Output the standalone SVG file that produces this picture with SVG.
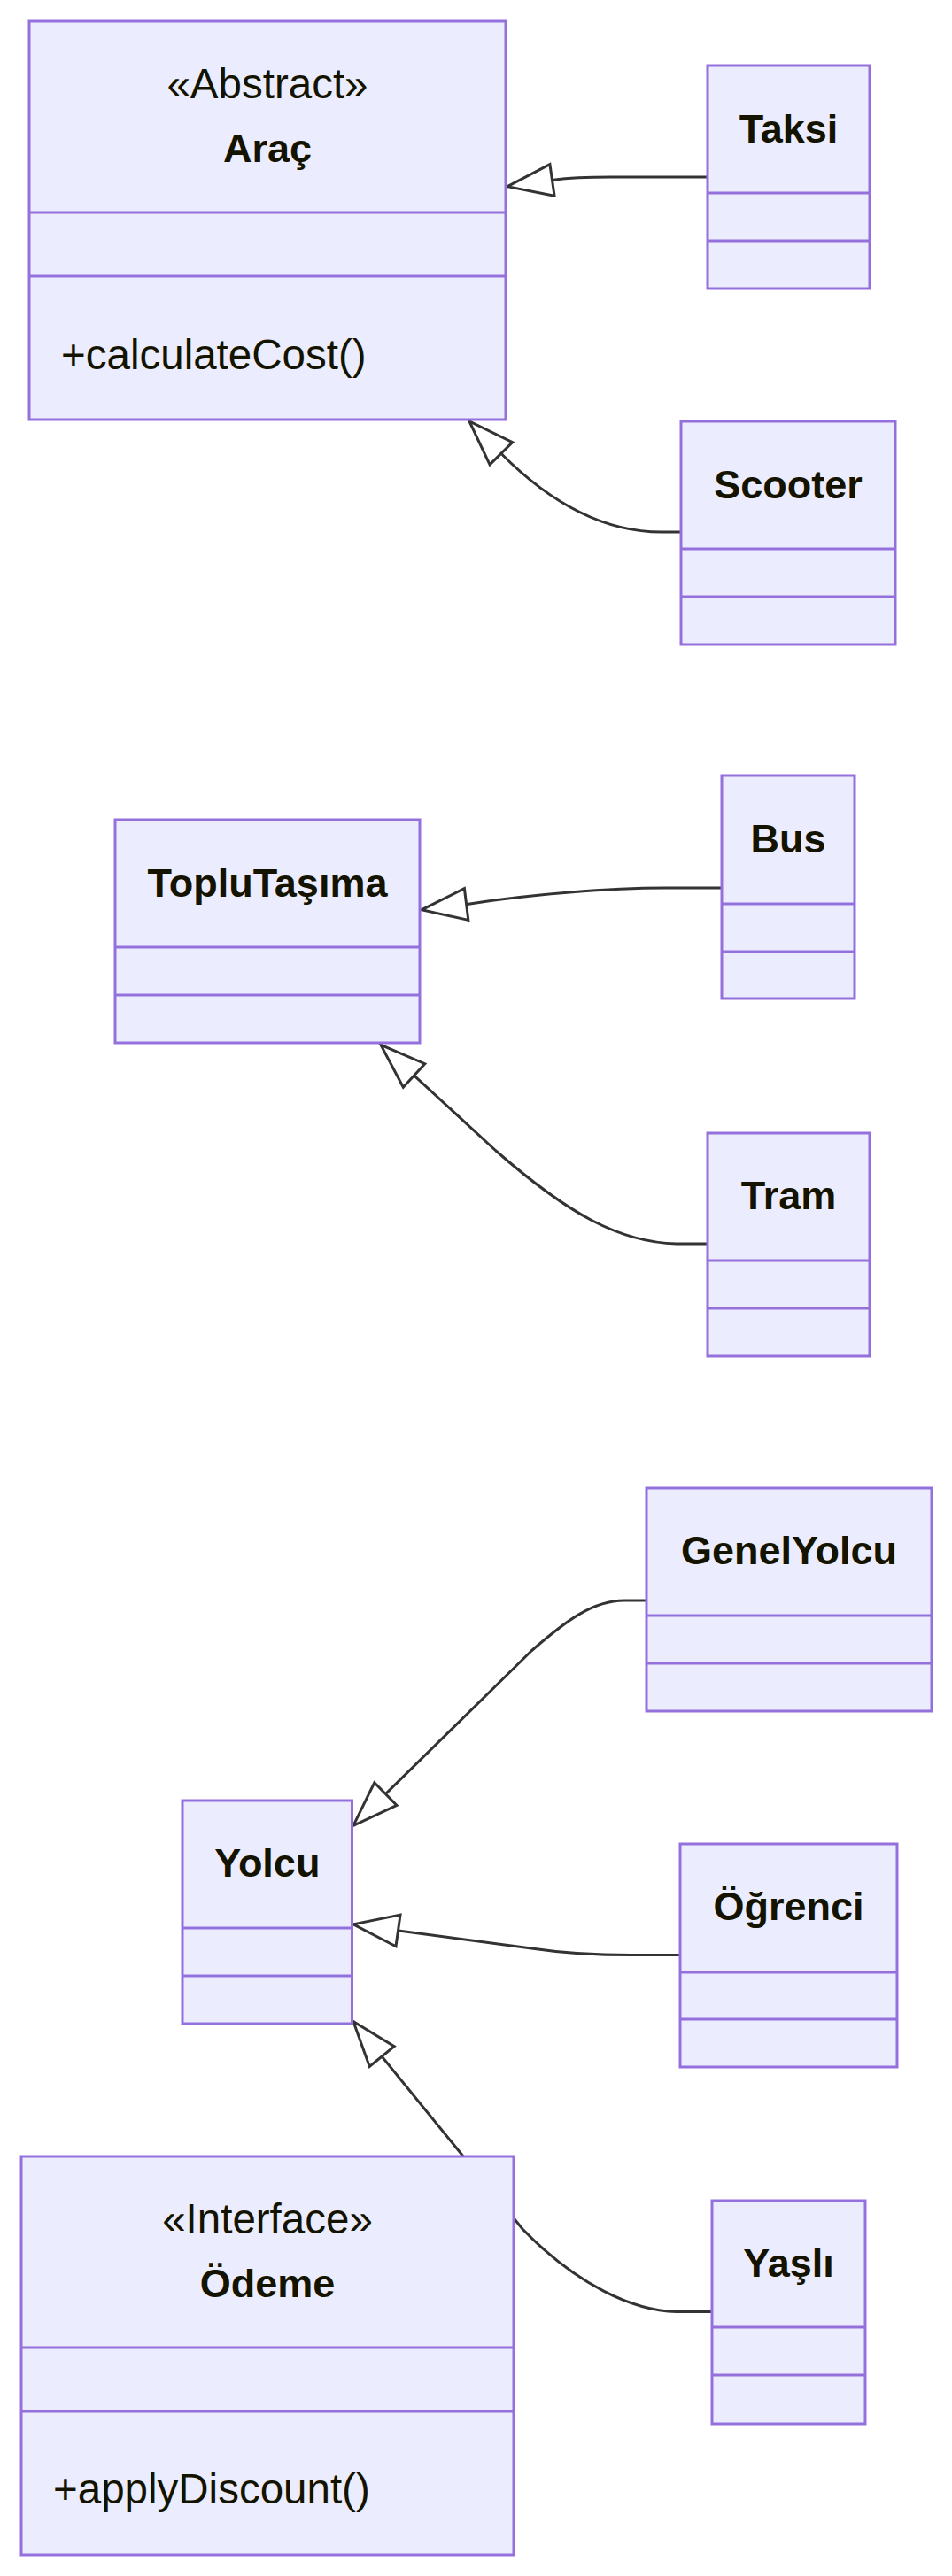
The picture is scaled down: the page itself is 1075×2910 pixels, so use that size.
<svg xmlns="http://www.w3.org/2000/svg" width="1075" height="2910" viewBox="0 0 1075 2910">
<style>
.box{fill:#ECECFF;stroke:#9370DB;stroke-width:3}
.div{stroke:#9370DB;stroke-width:3}
.edge{fill:none;stroke:#333333;stroke-width:3}
.t{font-family:"Liberation Sans",Arial,sans-serif;fill:#131300}
.reg{font-size:47.5px}
.bold{font-size:45px;font-weight:bold}
.c{text-anchor:middle}
</style>
<defs>
<marker id="ext" markerUnits="userSpaceOnUse" markerWidth="60" markerHeight="44" refX="52.5" refY="20" orient="auto" overflow="visible">
<path d="M1.5,2 L52.5,20 L1.5,38 Z" fill="#ffffff" stroke="#333333" stroke-width="3" stroke-linejoin="miter"/>
</marker>
</defs>
<rect width="1075" height="2910" fill="#ffffff"/>
<g id="connectors">
<path class="edge" d="M799,200 L690,200 C660,200 645,200.5 625,203.2 L573,210.7" marker-end="url(#ext)"/>
<path class="edge" d="M769,601 L747,601 C687,601 625,572 565.3,511.7 L530,476" marker-end="url(#ext)"/>
<path class="edge" d="M815,1003 L750,1003 C690,1003 600,1010 527.5,1021.4 L476,1027.8" marker-end="url(#ext)"/>
<path class="edge" d="M799,1405 L768,1405 C700,1405 640,1370 560,1300 L430,1180.4" marker-end="url(#ext)"/>
<path class="edge" d="M730,1808 L705,1808 C670,1808 640,1830 600,1865 L399,2062.3" marker-end="url(#ext)"/>
<path class="edge" d="M768,2208.6 L713,2208.6 C670,2208.6 640,2207 600,2201 L450,2181 L399,2173.8" marker-end="url(#ext)"/>
<path class="edge" d="M804,2611.6 L768,2611.6 C715,2611.6 650,2580 590,2518 L399,2283.6" marker-end="url(#ext)"/>
</g>
<g id="arac">
<rect class="box" x="33" y="24" width="538" height="450"/>
<line class="div" x1="33" y1="240" x2="571" y2="240"/>
<line class="div" x1="33" y1="312" x2="571" y2="312"/>
<text class="t reg c" x="302" y="111">«Abstract»</text>
<text class="t bold c" x="302" y="183">Araç</text>
<text class="t reg" x="69" y="417">+calculateCost()</text>
</g>
<g id="taksi">
<rect class="box" x="799" y="74" width="183" height="252"/>
<line class="div" x1="799" y1="218" x2="982" y2="218"/>
<line class="div" x1="799" y1="272" x2="982" y2="272"/>
<text class="t bold c" x="890.5" y="161">Taksi</text>
</g>
<g id="scooter">
<rect class="box" x="769" y="476" width="242" height="252"/>
<line class="div" x1="769" y1="620" x2="1011" y2="620"/>
<line class="div" x1="769" y1="674" x2="1011" y2="674"/>
<text class="t bold c" x="890" y="563">Scooter</text>
</g>
<g id="toplutasima">
<rect class="box" x="130" y="926" width="344" height="252"/>
<line class="div" x1="130" y1="1070" x2="474" y2="1070"/>
<line class="div" x1="130" y1="1124" x2="474" y2="1124"/>
<text class="t bold c" x="302" y="1013">TopluTaşıma</text>
</g>
<g id="bus">
<rect class="box" x="815" y="876" width="150" height="252"/>
<line class="div" x1="815" y1="1021" x2="965" y2="1021"/>
<line class="div" x1="815" y1="1075" x2="965" y2="1075"/>
<text class="t bold c" x="890" y="963">Bus</text>
</g>
<g id="tram">
<rect class="box" x="799" y="1280" width="183" height="252"/>
<line class="div" x1="799" y1="1424" x2="982" y2="1424"/>
<line class="div" x1="799" y1="1478" x2="982" y2="1478"/>
<text class="t bold c" x="890.5" y="1366">Tram</text>
</g>
<g id="genelyolcu">
<rect class="box" x="730" y="1681" width="322" height="252"/>
<line class="div" x1="730" y1="1825" x2="1052" y2="1825"/>
<line class="div" x1="730" y1="1879" x2="1052" y2="1879"/>
<text class="t bold c" x="891" y="1767">GenelYolcu</text>
</g>
<g id="yolcu">
<rect class="box" x="206" y="2034" width="191.5" height="252"/>
<line class="div" x1="206" y1="2178" x2="397.5" y2="2178"/>
<line class="div" x1="206" y1="2232" x2="397.5" y2="2232"/>
<text class="t bold c" x="301.8" y="2120">Yolcu</text>
</g>
<g id="ogrenci">
<rect class="box" x="768" y="2083" width="245" height="252"/>
<line class="div" x1="768" y1="2228" x2="1013" y2="2228"/>
<line class="div" x1="768" y1="2281" x2="1013" y2="2281"/>
<text class="t bold c" x="890.5" y="2169">Öğrenci</text>
</g>
<g id="odeme">
<rect class="box" x="24" y="2436" width="556" height="450"/>
<line class="div" x1="24" y1="2652" x2="580" y2="2652"/>
<line class="div" x1="24" y1="2724" x2="580" y2="2724"/>
<text class="t reg c" x="302" y="2523">«Interface»</text>
<text class="t bold c" x="302" y="2595">Ödeme</text>
<text class="t reg" x="60" y="2828">+applyDiscount()</text>
</g>
<g id="yasli">
<rect class="box" x="804" y="2486" width="173" height="252"/>
<line class="div" x1="804" y1="2629" x2="977" y2="2629"/>
<line class="div" x1="804" y1="2683" x2="977" y2="2683"/>
<text class="t bold c" x="890.5" y="2572">Yaşlı</text>
</g>
</svg>
